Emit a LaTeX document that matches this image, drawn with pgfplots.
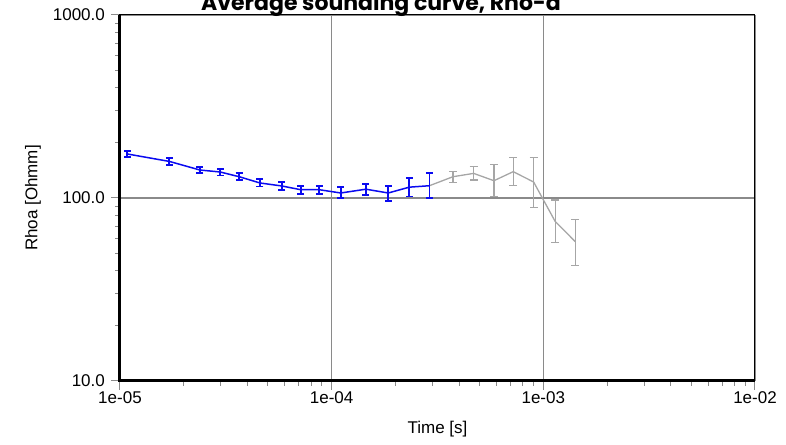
\documentclass[border=0pt]{standalone}
\usepackage{fontspec}
\setmainfont{Liberation Sans}
\newfontfamily\titlefont{Poppins}
\usepackage{pgfplots}
\pgfplotsset{compat=1.18}
\definecolor{curveblue}{HTML}{0A0AF0}
\definecolor{curvegray}{HTML}{A6A6A6}
\definecolor{gridgray}{HTML}{8A8A8A}

\begin{document}
\begin{tikzpicture}
  \begin{axis}[
    at={(0,0)}, anchor=south west,
    scale only axis,
    width=635pt, height=366pt,
    xmode=log, ymode=log,
    xmin=1e-5, xmax=1e-2,
    ymin=10, ymax=1000,
    xtick={1e-5,1e-4,1e-3,1e-2},
    xticklabels={1e-05,1e-04,1e-03,1e-02},
    ytick={10,100,1000},
    yticklabels={10.0,100.0,1000.0},
    xtick pos=bottom, ytick pos=left,
    tick align=outside,
    major tick length=9pt, minor tick length=5pt,
    tick style={gridgray, line width=1pt},
    grid=major,
    major grid style={gridgray, line width=1.1pt},
    axis line style={black, line width=1pt},
    tick label style={font=\fontsize{17}{17}\selectfont},
    xticklabel style={anchor=base, yshift=-14pt},
    yticklabel style={anchor=east, inner sep=0pt, xshift=-6pt},
    xlabel={Time [s]},
    ylabel={Rhoa [Ohmm]},
    every axis x label/.style={at={(axis description cs:0.5,0)}, anchor=base, yshift=-53pt, font=\fontsize{17}{17}\selectfont},
    every axis y label/.style={at={(axis description cs:-0.137,0.5)}, anchor=center, rotate=90, font=\fontsize{17}{17}\selectfont},
    clip=false,
  ]
    % grey part: link segment, then later times with error bars
    \addplot[curvegray, line width=1.3pt, mark=none] coordinates {(2.897e-4,116.7) (3.741e-4,130.7)};
    \addplot[curvegray, line width=1.3pt, mark=none,
      error bars/.cd, y dir=both, y explicit,
      error bar style={curvegray, line width=1.3pt},
      error mark options={rotate=90, curvegray, mark size=4pt, line width=1.3pt}]
      coordinates {
        (3.741e-4,130.7) += (0,8.6) -= (0,9.0)
        (4.687e-4,136.3) += (0,12.0) -= (0,10.9)
        (5.845e-4,124.3) += (0,27.8) -= (0,22.7)
        (7.207e-4,139.3) += (0,27.4) -= (0,22.6)
        (9.000e-4,122.3) += (0,44.4) -= (0,33.4)
        (1.138e-3,74.4) += (0,23.1) -= (0,17.2)
        (1.415e-3,57.8) += (0,18.3) -= (0,15.1)
      };
    % blue part
    \addplot[curveblue, line width=1.5pt, mark=none,
      error bars/.cd, y dir=both, y explicit,
      error bar style={curveblue, line width=1.8pt},
      error mark options={rotate=90, curveblue, mark size=3.5pt, line width=1.8pt}]
      coordinates {
        (1.083e-5,174.0) += (0,7.4) -= (0,7.1)
        (1.710e-5,158.5) += (0,6.1) -= (0,6.4)
        (2.387e-5,142.2) += (0,6.1) -= (0,5.9)
        (2.977e-5,138.7) += (0,5.9) -= (0,5.9)
        (3.660e-5,130.7) += (0,5.6) -= (0,5.3)
        (4.585e-5,120.8) += (0,6.7) -= (0,5.1)
        (5.825e-5,116.3) += (0,6.0) -= (0,5.7)
        (7.139e-5,111.0) += (0,5.7) -= (0,5.4)
        (8.739e-5,111.0) += (0,5.7) -= (0,5.4)
        (1.103e-4,106.5) += (0,7.8) -= (0,7.0)
        (1.452e-4,111.7) += (0,7.6) -= (0,7.5)
        (1.851e-4,106.5) += (0,10.2) -= (0,9.8)
        (2.326e-4,114.6) += (0,13.4) -= (0,12.6)
        (2.897e-4,116.7) += (0,19.6) -= (0,16.7)
      };
    \draw[black, line width=3pt] (rel axis cs:0,1) -- (rel axis cs:0,0) -- (rel axis cs:1,0);
  \end{axis}
  \node[font={\titlefont\bfseries\fontsize{22}{22}\selectfont}, anchor=base] at (261pt,370pt) {Average sounding curve, Rho-a};
  \pgfresetboundingbox
  \useasboundingbox (-120pt,-63pt) rectangle (666pt,381pt);
\end{tikzpicture}
\end{document}
